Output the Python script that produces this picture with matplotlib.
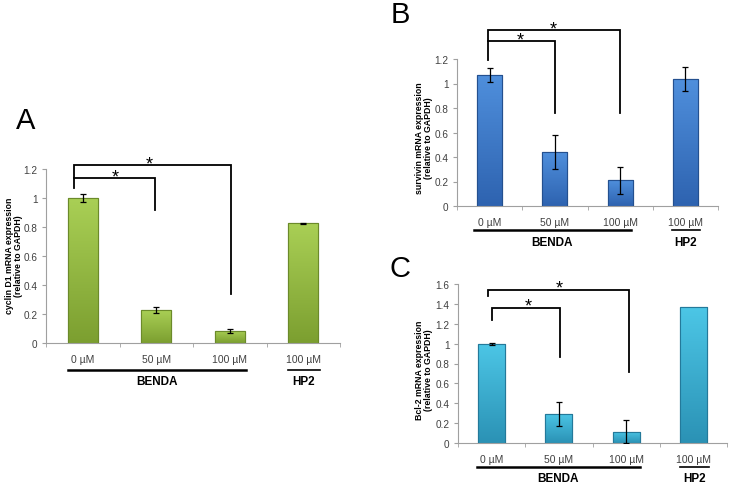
import numpy as np
import matplotlib
matplotlib.use("Agg")
import matplotlib.pyplot as plt
from matplotlib import font_manager
from matplotlib.colors import LinearSegmentedColormap

plt.rcParams['font.family'] = ['Liberation Sans', 'DejaVu Sans']

try:
    font_manager.findfont('Liberation Sans Narrow', fallback_to_default=False)
    TICKFONT = 'Liberation Sans Narrow'
except Exception:
    TICKFONT = 'Liberation Sans'

categories = ["0 µM", "50 µM", "100 µM", "100 µM"]

vals_A = [1.0, 0.225, 0.085, 0.825]
err_A = [0.03, 0.02, 0.015, 0.006]
vals_B = [1.07, 0.44, 0.21, 1.035]
err_B = [0.06, 0.14, 0.11, 0.10]
vals_C = [1.0, 0.295, 0.115, 1.365]
err_C = [0.01, 0.12, 0.115, 0.0]

ylabel_A = "cyclin D1 mRNA expression\n(relative to GAPDH)"
ylabel_B = "survivin mRNA expression\n(relative to GAPDH)"
ylabel_C = "Bcl-2 mRNA expression\n(relative to GAPDH)"

# brackets: (left_x, right_x, top_y, left_bottom_y, right_bottom_y)
brackets_A = [(-0.12, 2.02, 1.23, 1.14, 0.34), (-0.12, 0.98, 1.14, 1.07, 0.92)]
stars_A = [(0.90, 1.235), (0.44, 1.145)]
brackets_B = [(-0.02, 2.0, 1.44, 1.35, 0.76), (-0.02, 1.0, 1.35, 1.19, 0.76)]
stars_B = [(0.97, 1.445), (0.47, 1.355)]
brackets_C = [(-0.06, 2.05, 1.54, 1.48, 0.71), (0.0, 1.01, 1.36, 1.24, 0.87)]
stars_C = [(1.0, 1.56), (0.55, 1.38)]

W, H = 733, 489
fig = plt.figure(figsize=(W / 100, H / 100), dpi=100)


def fr(x0, x1, ybot, ytop):
    return [x0 / W, 1 - ybot / H, (x1 - x0) / W, (ybot - ytop) / H]


def draw_panel(rect, vals, errs, ylim, ystep, ylabel, ylabel_xy, top_col, bot_col, edge_col,
               brackets, stars, letter, letter_xy, bar_w=0.41):
    ax = fig.add_axes(rect)
    x = np.arange(len(vals))
    bars = ax.bar(x, vals, width=bar_w, color=bot_col, edgecolor=edge_col,
                  linewidth=0.8, zorder=2)
    cmap = LinearSegmentedColormap.from_list("g", [bot_col, top_col])
    grad = np.linspace(0, 1, 64).reshape(-1, 1)
    for b in bars:
        bx, by, bw, bh = b.get_x(), b.get_y(), b.get_width(), b.get_height()
        im = ax.imshow(grad, extent=[bx, bx + bw, by, by + bh], origin='lower',
                       cmap=cmap, aspect='auto', zorder=2.5)
        im.set_clip_path(b)
    for b in bars:
        ax.add_patch(plt.Rectangle((b.get_x(), b.get_y()), b.get_width(), b.get_height(),
                                   fill=False, edgecolor=edge_col, linewidth=0.8, zorder=3))
    ex = [xi for xi, e in zip(x, errs) if e > 0]
    ev = [v for v, e in zip(vals, errs) if e > 0]
    ee = [e for e in errs if e > 0]
    ax.errorbar(ex, ev, yerr=ee, fmt='none', ecolor='black', elinewidth=0.9,
                capsize=2.2, capthick=0.9, zorder=4)
    ax.set_xlim(-0.5, len(vals) - 0.5)
    ax.set_ylim(0, ylim)
    ticks = np.round(np.arange(0, ylim + 1e-6, ystep), 1)
    ax.set_yticks(ticks)
    ax.set_yticklabels([("%g" % t) for t in ticks], fontfamily=TICKFONT)
    ax.set_xticks(x)
    ax.set_xticklabels(categories, fontfamily=TICKFONT)
    ax.set_xticks(np.arange(-0.5, len(vals), 1.0), minor=True)
    ax.tick_params(axis='x', which='major', length=0, pad=8, labelsize=7.5, labelcolor='#404040')
    ax.tick_params(axis='x', which='minor', length=3, color='#a0a0a0', direction='out')
    ax.tick_params(axis='y', length=3, color='#a0a0a0', labelsize=7.2, labelcolor='#404040', pad=3)
    for s in ['top', 'right']:
        ax.spines[s].set_visible(False)
    for s in ['left', 'bottom']:
        ax.spines[s].set_color('#a0a0a0')
        ax.spines[s].set_linewidth(0.8)
    fig.text(ylabel_xy[0] / W, 1 - ylabel_xy[1] / H, ylabel, fontsize=6.3, fontweight='bold',
             linespacing=1.05, rotation=90, ha='center', va='center', multialignment='center')
    for (lx, rx, ty, lb, rb) in brackets:
        ax.plot([lx, lx, rx, rx], [lb, ty, ty, rb], color='black', lw=1.3,
                clip_on=False, zorder=5, solid_joinstyle='miter')
    for (sx, sy) in stars:
        ax.text(sx, sy, "*", ha='center', va='center', fontsize=13, clip_on=False)
    fig.text(letter_xy[0] / W, 1 - letter_xy[1] / H, letter, fontsize=21,
             ha='center', va='center')
    return ax


def group_lines(xa, xb, xc, xd, line_y, text_y):
    fig.add_artist(plt.Line2D([xa / W, xb / W], [1 - line_y / H] * 2, color='black', lw=1.8))
    fig.text((xa + xb) / 2 / W, 1 - text_y / H, "BENDA", fontsize=8.5, fontweight='bold',
             ha='center', va='center')
    fig.add_artist(plt.Line2D([xc / W, xd / W], [1 - line_y / H] * 2, color='black', lw=1.2))
    fig.text((xc + xd) / 2 / W, 1 - text_y / H, "HP2", fontsize=8.5, fontweight='bold',
             ha='center', va='center')


draw_panel(fr(46, 340, 344, 170), vals_A, err_A, 1.2, 0.2, ylabel_A, (14, 256),
           '#a9cf55', '#7c9f30', '#6b8a2a', brackets_A, stars_A, "A", (26, 121))
group_lines(68, 246, 288, 320, 371, 382)

draw_panel(fr(457, 718, 207, 60), vals_B, err_B, 1.2, 0.2, ylabel_B, (424, 138),
           '#4f8fdc', '#2e63b0', '#24508f', brackets_B, stars_B, "B", (400, 15), bar_w=0.38)
group_lines(474, 631, 672, 700, 231, 243)

draw_panel(fr(458, 727, 444, 285), vals_C, err_C, 1.6, 0.2, ylabel_C, (424, 370),
           '#4cc6e6', '#2b92b5', '#24799a', brackets_C, stars_C, "C", (400, 269), bar_w=0.4)
group_lines(477, 640, 680, 709, 468, 479)

fig.savefig("out.png", dpi=100, facecolor='white')
